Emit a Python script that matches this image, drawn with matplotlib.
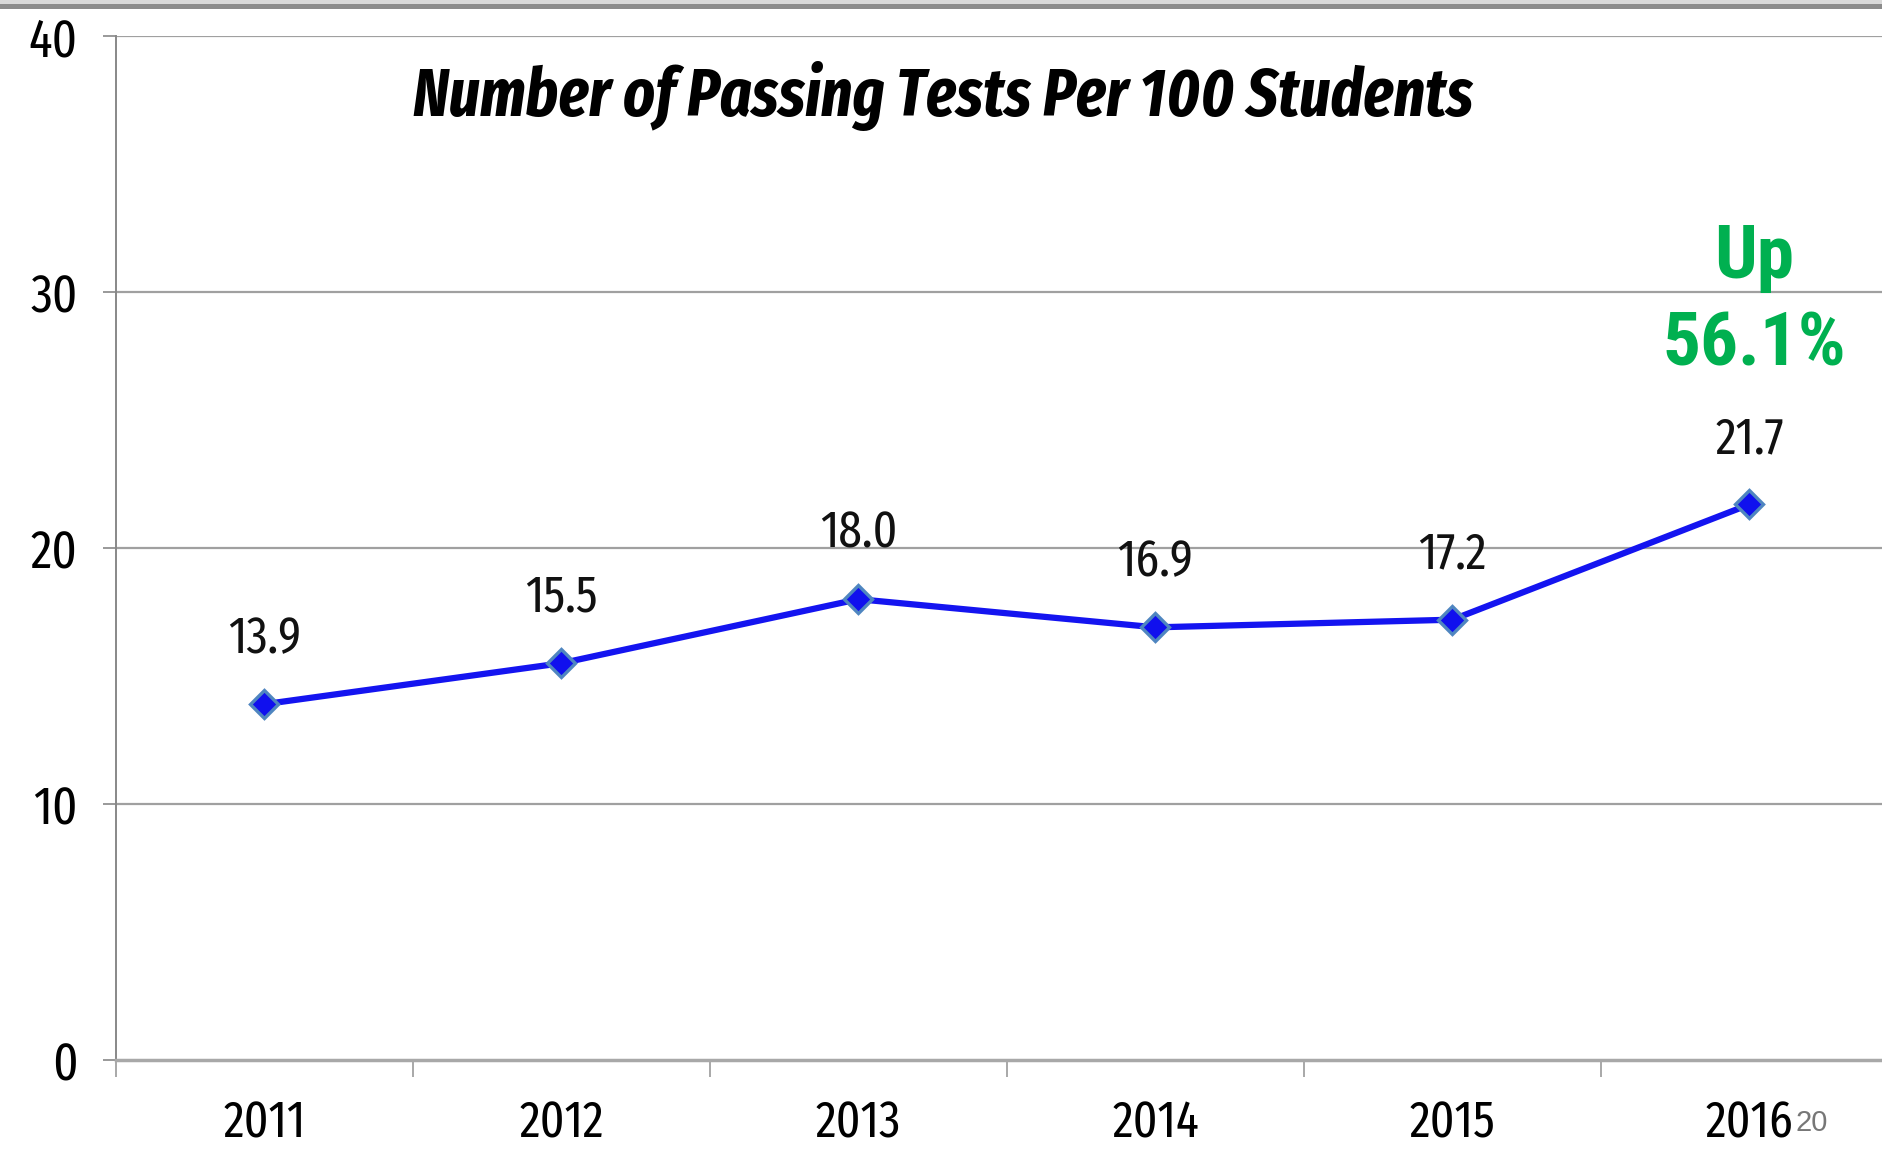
#!/usr/bin/env python3
"""Line chart: number of passing tests per 100 students, 2011-2016."""

import matplotlib
matplotlib.use("Agg")
import matplotlib.pyplot as plt
from matplotlib.patches import Rectangle

YEARS = ["2011", "2012", "2013", "2014", "2015", "2016"]
PASSING = [13.9, 15.5, 18.0, 16.9, 17.2, 21.7]
Y_TICKS = [0, 10, 20, 30, 40]
TITLE = "Number of Passing Tests Per 100 Students"
CALLOUT = "Up\n56.1%"
PAGE_NO = "20"

NARROW = ["Fira Sans Extra Condensed", "Roboto Condensed", "DejaVu Sans"]
FONT = ["Roboto Condensed", "Liberation Sans", "DejaVu Sans"]
W, H = 1883, 1153

fig = plt.figure(figsize=(W / 100, H / 100), dpi=100)
fig.patch.set_facecolor("white")

# grey band at the very top of the slide
fig.add_artist(Rectangle((0, 1 - 9 / H), 1, 5 / H, transform=fig.transFigure,
                         color="#8c8c8c", lw=0))
fig.add_artist(Rectangle((0, 1 - 4 / H), 1, 4 / H, transform=fig.transFigure,
                         color="#d9d9d9", lw=0))

left, right, bottom, top = 116, W, 1060, 36
ax = fig.add_axes([left / W, (H - bottom) / H, (right - left) / W, (bottom - top) / H])

x = list(range(len(YEARS)))
ax.set_xlim(-0.5, 5.45)
ax.set_ylim(0, 40)

grid_c = "#a0a0a0"
for y in Y_TICKS[1:]:
    ax.axhline(y, color=grid_c, lw=1.6, zorder=1)

for side in ("top", "right"):
    ax.spines[side].set_visible(False)
ax.spines["left"].set_color("#888888")
ax.spines["left"].set_linewidth(1.4)
ax.spines["bottom"].set_color("#a8a8a8")
ax.spines["bottom"].set_linewidth(2.5)

ax.set_yticks(Y_TICKS)
ax.set_yticklabels([str(v) for v in Y_TICKS], fontfamily=NARROW, fontsize=38)
ax.tick_params(axis="y", length=9.5, width=1.2, color="#888888", pad=18)

ax.set_xticks(x)
ax.set_xticklabels(YEARS, fontfamily=NARROW, fontsize=37)
ax.tick_params(axis="x", which="major", length=0, pad=28)
ax.set_xticks([i - 0.5 for i in range(len(YEARS))], minor=True)
ax.tick_params(axis="x", which="minor", length=12, width=1.2, color="#999999")

ax.plot(x, PASSING, color="#1414f0", lw=4.5, zorder=3,
        marker="D", markersize=14, markerfacecolor="#1010ee",
        markeredgecolor="#4f86c0", markeredgewidth=2.4, clip_on=False)

for xi, v in zip(x, PASSING):
    ax.annotate(f"{v:.1f}", (xi, v), xytext=(0, 47), textcoords="offset points",
                ha="center", va="center", fontfamily=NARROW, fontsize=37,
                color="#111111")

fig.text(943 / W, 1 - 116 / H, TITLE, ha="center", va="baseline",
         fontfamily=NARROW, fontsize=48, fontweight="bold", fontstyle="italic")

fig.text(1754 / W, 1 - 302 / H, CALLOUT, ha="center", va="center",
         fontfamily=FONT, fontsize=54, fontweight="bold", color="#00b050",
         linespacing=1.32)

fig.text(1812 / W, 1 - 1123 / H, PAGE_NO, ha="center", va="center",
         fontfamily=["Liberation Sans", "DejaVu Sans"], fontsize=21,
         color="#777777")

fig.savefig("out.png", dpi=100, facecolor="white")
